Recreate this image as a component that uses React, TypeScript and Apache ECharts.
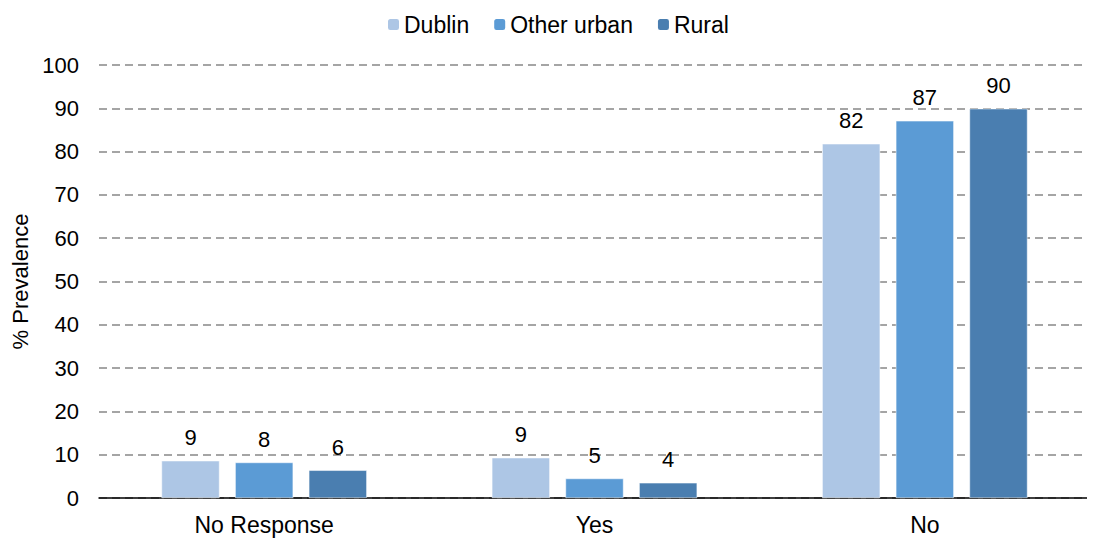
import React, { useEffect, useRef } from "react";
import * as echarts from "echarts";

const categories = ["No Response", "Yes", "No"];
const seriesNames = ["Dublin", "Other urban", "Rural"];
const dublin = [8.6, 9.3, 81.8];
const otherUrban = [8.2, 4.5, 87.1];
const rural = [6.4, 3.5, 89.9];
const colors = ["#ADC6E5", "#5B9BD5", "#4A7EB0"];
const yTicks = { min: 0, max: 100, interval: 10 };

export default function App() {
  const ref = useRef<HTMLDivElement>(null);
  useEffect(() => {
    if (!ref.current) return;
    const chart = echarts.init(ref.current, null, { renderer: "svg" });
    const font = "'Liberation Sans', Arial, sans-serif";
    const fs = 22;
    const data = [dublin, otherUrban, rural];
    chart.setOption({
      animation: false,
      textStyle: { fontFamily: font },
      legend: {
        top: 8,
        left: 381,
        itemWidth: 13,
        itemHeight: 13,
        itemGap: 23,
        textStyle: { fontSize: 23, color: "#000", fontFamily: font, padding: [0, 0, 0, -1] },
        data: seriesNames,
      },
      grid: { left: 99, right: 5, top: 65, bottom: 42, containLabel: false },
      xAxis: {
        type: "category",
        data: categories,
        axisLine: { lineStyle: { color: "#000", width: 1.5 } },
        axisTick: { show: false },
        axisLabel: { fontSize: 23, color: "#000", margin: 15, fontFamily: font },
      },
      yAxis: {
        type: "value",
        min: yTicks.min,
        max: yTicks.max,
        interval: yTicks.interval,
        name: "% Prevalence",
        nameLocation: "middle",
        nameGap: 62,
        nameTextStyle: { fontSize: fs, color: "#000", fontFamily: font },
        axisLine: { show: false },
        axisTick: { show: false },
        axisLabel: { fontSize: fs, color: "#000", margin: 20, fontFamily: font },
        splitLine: { lineStyle: { color: "#888", type: [8, 5], width: 1.5 } },
      },
      series: seriesNames.map((name, i) => ({
        name,
        type: "bar",
        data: data[i],
        barWidth: 58,
        barGap: "27%",
        itemStyle: { color: colors[i], borderColor: "#fff", borderWidth: 0.5 },
        label: {
          show: true,
          position: "top",
          distance: 12,
          fontSize: fs,
          color: "#000",
          fontFamily: font,
          formatter: (p: any) => String(Math.round(p.value)),
        },
      })),
    });
    return () => chart.dispose();
  }, []);
  return (
    <div
      ref={ref}
      style={{ width: 1095, height: 540, marginLeft: -8, marginTop: -8 }}
    />
  );
}
